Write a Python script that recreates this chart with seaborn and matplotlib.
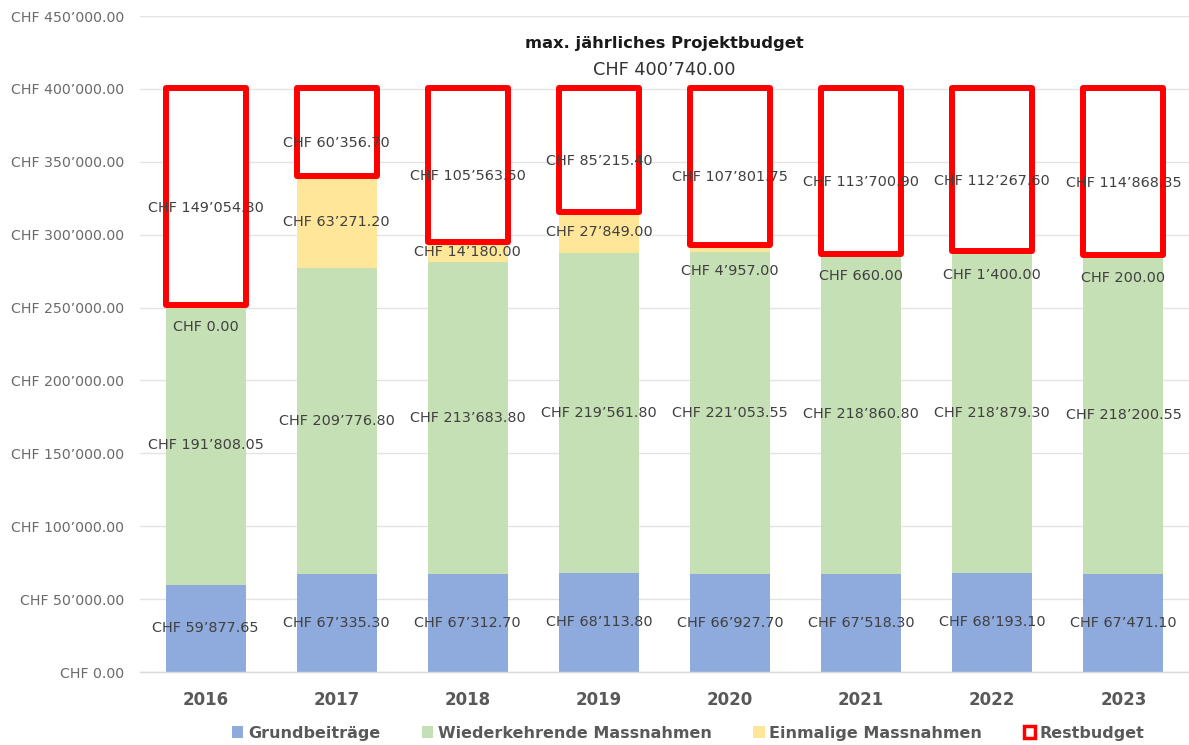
import matplotlib
matplotlib.use("Agg")
import matplotlib.pyplot as plt
import matplotlib.transforms as mtransforms
from matplotlib.patches import Patch
import numpy as np
import pandas as pd
import seaborn as sns

years = ["2016", "2017", "2018", "2019", "2020", "2021", "2022", "2023"]
grundbeitraege = [59877.65, 67335.30, 67312.70, 68113.80, 66927.70, 67518.30, 68193.10, 67471.10]
wiederkehrend = [191808.05, 209776.80, 213683.80, 219561.80, 221053.55, 218860.80, 218879.30, 218200.55]
einmalig = [0.00, 63271.20, 14180.00, 27849.00, 4957.00, 660.00, 1400.00, 200.00]
restbudget = [149054.30, 60356.70, 105563.50, 85215.40, 107801.75, 113700.90, 112267.60, 114868.35]
max_budget = 400740.00

series_names = ["Grundbeiträge", "Wiederkehrende Massnahmen", "Einmalige Massnahmen", "Restbudget"]
series_values = [grundbeitraege, wiederkehrend, einmalig, restbudget]
fill_colors = ["#8FAADC", "#C5E0B4", "#FFE699", "white"]


def chf(v):
    return "CHF " + f"{v:,.2f}".replace(",", "\u2019")


sns.set_style("white")
plt.rcParams["font.family"] = ["DejaVu Sans"]

fig = plt.figure(figsize=(11.89, 7.45), dpi=100)
ax = fig.add_axes([140 / 1189, 73 / 745, 1049 / 1189, 656 / 745])

bottom = np.zeros(len(years))
for name, vals, col in zip(series_names, series_values, fill_colors):
    df = pd.DataFrame({"year": years, "value": vals})
    if name == "Restbudget":
        sns.barplot(data=df, x="year", y="value", ax=ax, bottom=bottom,
                    color="white", edgecolor="#FF0000", linewidth=4.3,
                    width=0.61, saturation=1, errorbar=None, zorder=3)
    else:
        sns.barplot(data=df, x="year", y="value", ax=ax, bottom=bottom,
                    color=col, linewidth=0, width=0.61, saturation=1,
                    errorbar=None, zorder=2)
    for i, v in enumerate(vals):
        yc = bottom[i] + v / 2
        dy = 0
        if name == "Einmalige Massnahmen" and v < 10000:
            dy = -16
        elif name == "Restbudget":
            dy = -8
        ax.annotate(chf(v), (i, yc), xytext=(0, dy), textcoords="offset points",
                    ha="center", va="center", fontsize=10.4, color="#404040", zorder=5)
    bottom = bottom + np.array(vals)

for p in ax.patches:
    p.set_joinstyle("round")

ax.set_xlim(-0.5, len(years) - 0.5)
ax.set_ylim(0, 450000)
yt = np.arange(0, 450001, 50000)
ax.set_yticks(yt)
ax.set_yticklabels([chf(v) for v in yt], fontsize=10.2, color="#6b6b6b")
ax.yaxis.grid(True, color="#E3E3E3", linewidth=1)
ax.set_axisbelow(True)
ax.tick_params(axis="y", length=0, pad=11.5)
ax.tick_params(axis="x", length=0, pad=14)
for lbl in ax.get_xticklabels():
    lbl.set_fontweight("bold")
    lbl.set_fontsize(12)
    lbl.set_color("#595959")
ax.set_xlabel("")
ax.set_ylabel("")
for s in ["left", "right", "top"]:
    ax.spines[s].set_visible(False)
ax.spines["bottom"].set_color("#D9D9D9")
ax.spines["bottom"].set_linewidth(1)
# small category separator ticks
ax.set_xticks(np.arange(-0.5, len(years)), minor=True)
ax.tick_params(axis="x", which="minor", length=6, color="#D9D9D9", width=1)

trans = mtransforms.blended_transform_factory(ax.transAxes, ax.transData)
ax.text(0.5, 431000, "max. jährliches Projektbudget", transform=trans,
        ha="center", va="center", fontsize=11.8, fontweight="bold", color="#1a1a1a")
ax.text(0.5, 413000, chf(max_budget), transform=trans,
        ha="center", va="center", fontsize=12.8, color="#333333")

handles = [Patch(facecolor=c, edgecolor="#FF0000" if n == "Restbudget" else c,
                 linewidth=2.5 if n == "Restbudget" else 0)
           for n, c in zip(series_names, fill_colors)]
leg = fig.legend(handles, series_names, loc="center", bbox_to_anchor=(0.579, 0.016),
                 ncol=4, frameon=False, handlelength=0.7, handleheight=0.7,
                 handletextpad=0.3, columnspacing=2.6,
                 prop={"weight": "bold", "size": 11.5})
for t in leg.get_texts():
    t.set_color("#595959")

fig.savefig("out.png", dpi=100, facecolor="white")
